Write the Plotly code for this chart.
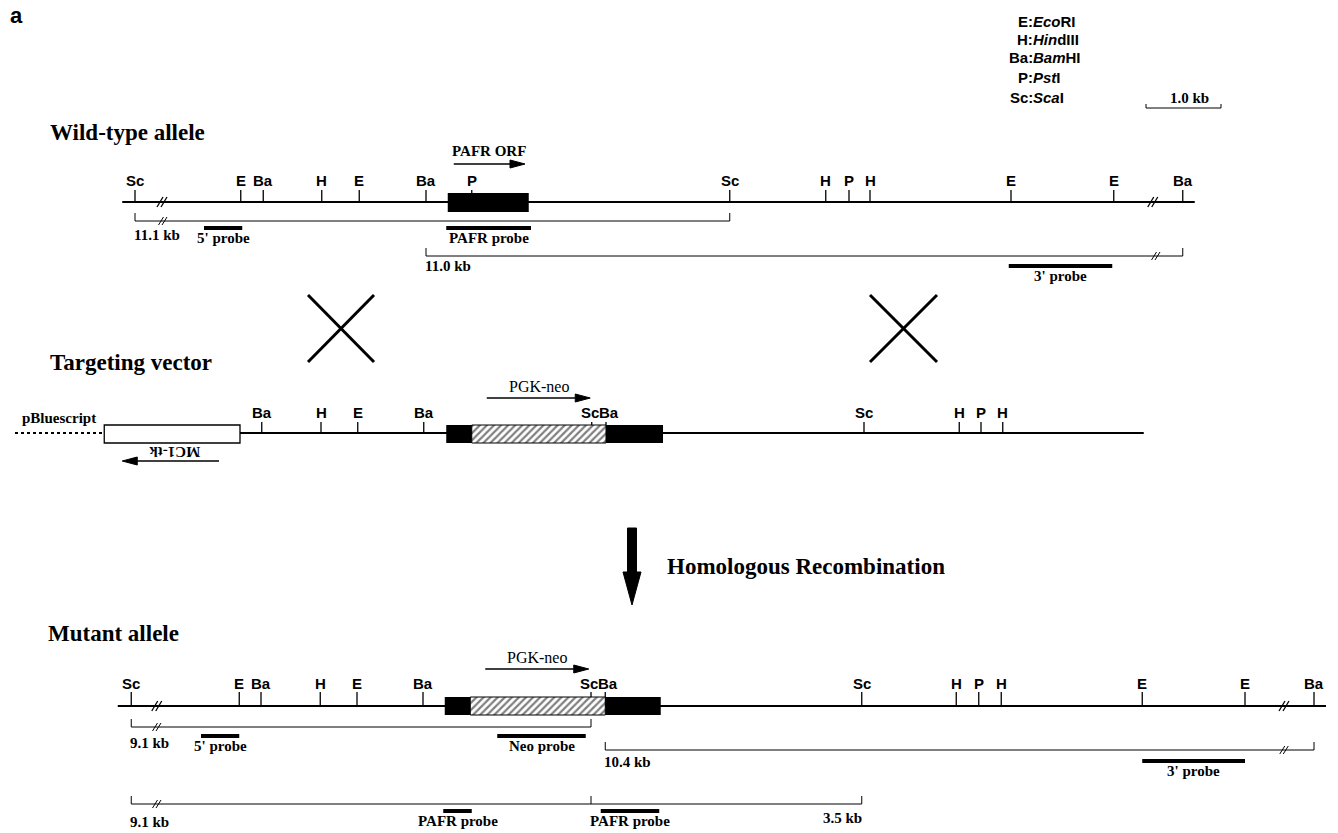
import plotly.graph_objects as go

# ======================= DATA (map positions in kb) =======================
legend_codes = ["E", "H", "Ba", "P", "Sc"]
legend_names = ["<i>Eco</i>RI", "<i>Hin</i>dIII", "<i>Bam</i>HI", "<i>Pst</i>I", "<i>Sca</i>I"]
scale_bar_kb = 1.0
scale_bar_start_kb = 13.48

# Wild-type allele
wt_sites = ["Sc", "E", "Ba", "H", "E", "Ba", "P", "Sc", "H", "P", "H", "E", "E", "Ba"]
wt_site_kb = [0.00, 1.41, 1.71, 2.49, 2.99, 3.88, 4.49, 7.93, 9.21, 9.52, 9.80, 11.68, 13.05, 13.97]
wt_span_kb = [-0.17, 14.13]
wt_break_kb = [0.36, 13.57]
wt_orf_kb = [4.17, 5.25]
wt_orf_arrow_kb = [4.25, 5.20]
wt_probe_names = ["5' probe", "PAFR probe", "3' probe"]
wt_probe_kb = [[0.92, 1.43], [4.15, 5.28], [11.65, 13.03]]
wt_frag_names = ["11.1 kb", "11.0 kb"]
wt_frag_kb = [[0.00, 7.93], [3.88, 13.97]]
wt_frag_break_kb = [[0.37], [13.61]]

# Targeting vector
tv_sites = ["Ba", "H", "E", "Ba", "Sc", "Ba", "Sc", "H", "P", "H"]
tv_site_kb = [1.69, 2.48, 2.97, 3.85, 6.09, 6.28, 9.72, 10.99, 11.28, 11.57]
tv_span_kb = [1.40, 13.45]
tv_plasmid_kb = [-1.60, -0.43]
tv_tk_box_kb = [-0.41, 1.40]
tv_tk_arrow_kb = [1.12, -0.17]
tv_exon_kb = [[4.15, 4.49], [6.28, 7.04]]
tv_neo_kb = [4.49, 6.28]
tv_neo_arrow_kb = [4.69, 6.07]

# Mutant allele
mut_sites = ["Sc", "E", "Ba", "H", "E", "Ba", "Sc", "Ba", "Sc", "H", "P", "H", "E", "E", "Ba"]
mut_site_kb = [-0.05, 1.39, 1.68, 2.47, 2.96, 3.84, 6.08, 6.27, 9.69, 10.95, 11.25, 11.55, 13.43, 14.80, 15.72]
mut_span_kb = [-0.23, 15.88]
mut_break_kb = [0.29, 15.32]
mut_exon_kb = [[4.13, 4.47], [6.27, 7.01]]
mut_neo_kb = [4.47, 6.27]
mut_neo_arrow_kb = [4.67, 6.05]
mut_probe_names = ["5' probe", "Neo probe", "3' probe", "PAFR probe", "PAFR probe"]
mut_probe_kb = [[0.88, 1.39], [4.83, 6.01], [13.43, 14.80], [4.11, 4.49], [6.21, 6.99]]
mut_frag_names = [["9.1 kb"], ["10.4 kb"], ["9.1 kb", "3.5 kb"]]
mut_frag_kb = [[-0.05, 6.08], [6.27, 15.72], [-0.05, 9.69]]
mut_frag_mid_kb = [[], [], [6.08]]
mut_frag_break_kb = [[0.29], [15.32], [0.29]]

# ======================= LAYOUT / STYLE =======================
W, H = 1338, 833
PX_PER_KB = 75.0
X_MIN_KB = -1.8
SERIF = "Liberation Serif"
SANS = "Liberation Sans"
MERGE_KB = 0.22

shapes, ann = [], []
fig = go.Figure()


def kb_off(p):
    return p / PX_PER_KB


def pp(p):  # pixel -> paper x for layout-only decorations
    return p / W


def line(x0, y0, x1, y1, w=1.0, ref="x", layer="above", dash=None):
    ln = dict(color="black", width=w)
    if dash:
        ln["dash"] = dash
    shapes.append(dict(type="line", x0=x0, y0=y0, x1=x1, y1=y1, xref=ref, yref="y",
                       line=ln, layer=layer))


def rect(x0, y0, x1, y1, fill="black", lw=0, layer="above"):
    shapes.append(dict(type="rect", x0=x0, x1=x1, y0=y0, y1=y1, xref="x", yref="y",
                       fillcolor=fill, line=dict(color="black", width=lw), layer=layer))


def text(x, y, s, size=15, font=SERIF, bold=True, xanchor="center", ref="x", angle=0):
    ann.append(dict(x=x, y=y, xref=ref, yref="y", text=(f"<b>{s}</b>" if bold else s),
                    showarrow=False, xanchor=xanchor, yanchor="middle", textangle=angle,
                    borderpad=0, borderwidth=0,
                    font=dict(family=font, size=size, color="black")))


def brk(k, y, h=5, w=3, gap=4, lw=1.3):
    for off in (-gap / 2, gap / 2):
        line(k + kb_off(off - w), y + h, k + kb_off(off + w), y - h, w=lw)


def sites(labels, kbs, label_y, tick_top, tick_bot):
    for k in kbs:
        line(k, tick_top, k, tick_bot, w=1.3, layer="below")
    i, n = 0, len(kbs)
    while i < n:
        if i + 1 < n and kbs[i + 1] - kbs[i] < MERGE_KB:
            mid = (kbs[i] + kbs[i + 1]) / 2
            text(mid, label_y, labels[i], font=SANS, xanchor="right")
            text(mid, label_y, labels[i + 1], font=SANS, xanchor="left")
            i += 2
        else:
            text(kbs[i], label_y, labels[i], font=SANS)
            i += 1


def arrow(k0, k1, y, head_px=15, half_px=4, lw=1.5):
    d = 1 if k1 > k0 else -1
    kh = k1 - d * kb_off(head_px)
    line(k0, y, kh, y, w=lw)
    shapes.append(dict(type="path", path=f"M {k1},{y} L {kh},{y - half_px} L {kh},{y + half_px} Z",
                       xref="x", yref="y", fillcolor="black", line=dict(color="black", width=1)))


def bracket(k0, k1, y, h=8, breaks=(), mids=()):
    line(k0, y, k1, y, w=1)
    line(k0, y - h, k0, y, w=1)
    line(k1, y - h, k1, y, w=1)
    for m in mids:
        line(m, y - h, m, y, w=1)
    for b in breaks:
        brk(b, y, h=4, w=2.5, gap=3.5, lw=1)


def probe(k0, k1, y, name, label_dy=10):
    line(k0, y, k1, y, w=4)
    text((k0 + k1) / 2, y + label_dy, name)


def hatch(k0, k1, y0, y1):
    fig.add_trace(go.Scatter(
        x=[k0, k1, k1, k0, k0], y=[y0, y0, y1, y1, y0], mode="lines",
        fill="toself", fillcolor="white",
        fillpattern=dict(shape="/", fgcolor="black", bgcolor="white", size=5, solidity=0.45),
        line=dict(color="black", width=1), hoverinfo="skip", showlegend=False))


# ---------------- panel label / legend / scale ----------------
text(pp(16), 15, "a", size=22, font=SANS, ref="paper")
legend_y = [21, 39, 57, 77, 97]
for c, nm, y in zip(legend_codes, legend_names, legend_y):
    text(pp(1033), y, c + ":", size=15, font=SANS, xanchor="right", ref="paper")
    text(pp(1033), y, nm, size=15, font=SANS, xanchor="left", ref="paper")
sb0, sb1 = scale_bar_start_kb, scale_bar_start_kb + scale_bar_kb
bracket(sb0, sb1, 108, h=4)
text((sb0 + sb1) / 2 + kb_off(6), 98, f"{scale_bar_kb:.1f} kb")

# ---------------- Wild-type allele ----------------
WT_Y = 202
text(pp(50), 132, "Wild-type allele", size=23, xanchor="left", ref="paper")
line(wt_span_kb[0], WT_Y, wt_span_kb[1], WT_Y, w=2.2, layer="below")
sites(wt_sites, wt_site_kb, 180, 190, WT_Y)
for b in wt_break_kb:
    brk(b, WT_Y)
rect(wt_orf_kb[0], 193, wt_orf_kb[1], 212)
arrow(wt_orf_arrow_kb[0], wt_orf_arrow_kb[1], 164)
text(sum(wt_orf_arrow_kb) / 2, 151, "PAFR ORF")
wt_probe_y = [228, 228, 266]
for (k0, k1), nm, y in zip(wt_probe_kb, wt_probe_names, wt_probe_y):
    probe(k0, k1, y, nm)
wt_frag_y = [221, 256]
wt_frag_label_y = [235, 266]
for (k0, k1), nm, y, ly, bks in zip(wt_frag_kb, wt_frag_names, wt_frag_y, wt_frag_label_y, wt_frag_break_kb):
    bracket(k0, k1, y, breaks=bks)
    text(k0 - kb_off(1), ly, nm, xanchor="left")

# ---------------- crossover X marks ----------------
for xl, xr in ((308, 374), (870, 937)):
    line(pp(xl), 295, pp(xr), 362, w=3, ref="paper")
    line(pp(xr), 295, pp(xl), 362, w=3, ref="paper")

# ---------------- Targeting vector ----------------
TV_Y = 433
text(pp(50), 362, "Targeting vector", size=23, xanchor="left", ref="paper")
line(tv_plasmid_kb[0], TV_Y, tv_plasmid_kb[1], TV_Y, w=2, dash="dot")
text(sum(tv_plasmid_kb) / 2, 418, "pBluescript", size=15)
line(tv_span_kb[0], TV_Y, tv_span_kb[1], TV_Y, w=2.2, layer="below")
rect(tv_tk_box_kb[0], 425, tv_tk_box_kb[1], 443, fill="white", lw=1.3)
arrow(tv_tk_arrow_kb[0], tv_tk_arrow_kb[1], 461)
text(sum(tv_tk_arrow_kb) / 2 + kb_off(4), 452, "MC1-tk", angle=180)
sites(tv_sites, tv_site_kb, 412, 422, TV_Y)
hatch(tv_neo_kb[0], tv_neo_kb[1], 425, 443)
for k0, k1 in tv_exon_kb:
    rect(k0, 425, k1, 443)
arrow(tv_neo_arrow_kb[0], tv_neo_arrow_kb[1], 398)
text(sum(tv_neo_arrow_kb) / 2, 386, "PGK-neo", size=16, bold=False)

# ---------------- Homologous recombination arrow ----------------
ax = 632
shapes.append(dict(type="path", xref="paper", yref="y", fillcolor="black",
                   line=dict(color="black", width=1),
                   path=(f"M {pp(ax - 4.5)},528 L {pp(ax + 4.5)},528 L {pp(ax + 4.5)},572 "
                         f"L {pp(ax + 9)},572 L {pp(ax)},605 L {pp(ax - 9)},572 L {pp(ax - 4.5)},572 Z")))
text(pp(667), 566, "Homologous Recombination", size=23, xanchor="left", ref="paper")

# ---------------- Mutant allele ----------------
MUT_Y = 706
text(pp(48), 633, "Mutant allele", size=23, xanchor="left", ref="paper")
line(mut_span_kb[0], MUT_Y, mut_span_kb[1], MUT_Y, w=2.2, layer="below")
sites(mut_sites, mut_site_kb, 683, 692, MUT_Y)
for b in mut_break_kb:
    brk(b, MUT_Y)
hatch(mut_neo_kb[0], mut_neo_kb[1], 697, 715)
for k0, k1 in mut_exon_kb:
    rect(k0, 697, k1, 715)
arrow(mut_neo_arrow_kb[0], mut_neo_arrow_kb[1], 669)
text(sum(mut_neo_arrow_kb) / 2, 657, "PGK-neo", size=16, bold=False)
mut_probe_y = [736, 736, 761, 811, 811]
for (k0, k1), nm, y in zip(mut_probe_kb, mut_probe_names, mut_probe_y):
    probe(k0, k1, y, nm)
mut_frag_y = [727, 750, 804]
mut_frag_label_y = [743, 762, 822]
for (k0, k1), names, y, ly, mids, bks in zip(mut_frag_kb, mut_frag_names, mut_frag_y,
                                              mut_frag_label_y, mut_frag_mid_kb, mut_frag_break_kb):
    bracket(k0, k1, y, breaks=bks, mids=mids)
    text(k0 - kb_off(1), ly, names[0], xanchor="left")
    if len(names) > 1:
        text(k1, ly - 4, names[1], xanchor="right")

fig.update_layout(
    width=W, height=H, margin=dict(l=0, r=0, t=0, b=0),
    paper_bgcolor="white", plot_bgcolor="white", showlegend=False,
    xaxis=dict(range=[X_MIN_KB, X_MIN_KB + W / PX_PER_KB], visible=False, fixedrange=True),
    yaxis=dict(range=[H, 0], visible=False, fixedrange=True),
    shapes=shapes, annotations=ann,
)
fig.write_html("out.html", config=dict(displayModeBar=False),
               post_script="document.body.style.margin='0';document.body.style.overflow='hidden';")
